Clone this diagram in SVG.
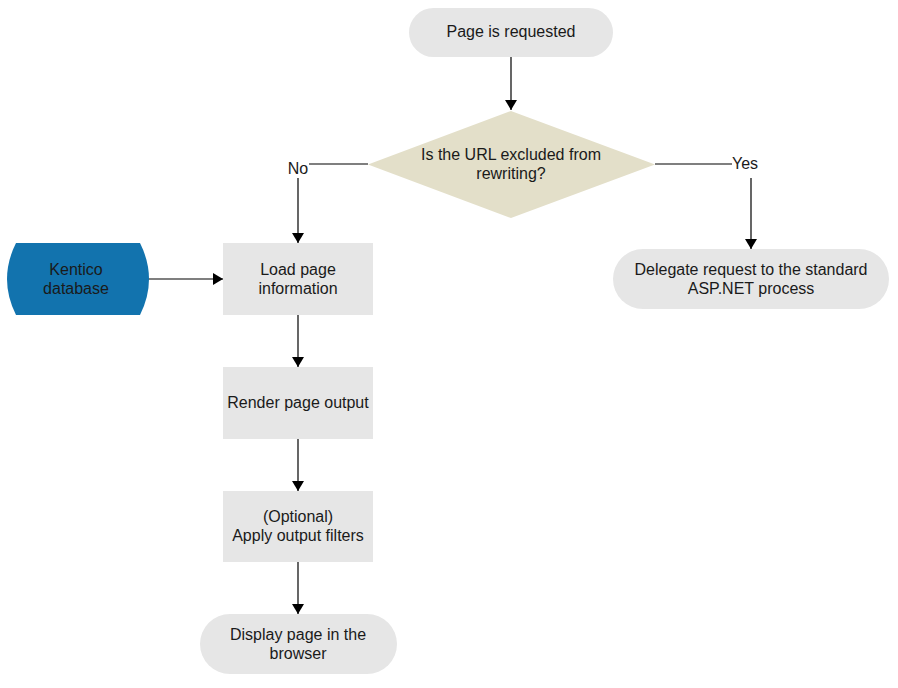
<svg xmlns="http://www.w3.org/2000/svg" width="898" height="688" viewBox="0 0 898 688">
<defs>
<style>
text{font-family:"Liberation Sans",Arial,sans-serif;font-size:16px;fill:#1a1a1a;text-anchor:middle}
.g{fill:#e6e6e6}
.c{stroke:#000;stroke-width:1.2;fill:none}
</style>
<marker id="ah" viewBox="0 0 10 12" refX="10" refY="6" markerWidth="10" markerHeight="12" markerUnits="userSpaceOnUse" orient="auto">
<path d="M0,0 L10,6 L0,12 z" fill="#000"/>
</marker>
</defs>
<rect width="898" height="688" fill="#fff"/>
<g id="connectors">
<path class="c" d="M511,57 V110" marker-end="url(#ah)"/>
<path class="c" d="M368,164 H309"/>
<path class="c" d="M298,178 V243" marker-end="url(#ah)"/>
<path class="c" d="M655,164 H732"/>
<path class="c" d="M751,178 V249" marker-end="url(#ah)"/>
<path class="c" d="M148,279 H223" marker-end="url(#ah)"/>
<path class="c" d="M298,315 V367" marker-end="url(#ah)"/>
<path class="c" d="M298,439 V491" marker-end="url(#ah)"/>
<path class="c" d="M298,562 V614" marker-end="url(#ah)"/>
<text x="298" y="174">No</text>
<text x="745" y="169">Yes</text>
</g>
<g id="start">
<rect class="g" x="409" y="8" width="204" height="49" rx="24.5"/>
<text x="511" y="37">Page is requested</text>
</g>
<g id="decision">
<polygon points="511,111 655,164.5 511,218 368,164.5" fill="#e3dfc9"/>
<text x="511" y="160">Is the URL excluded from</text>
<text x="511" y="179">rewriting?</text>
</g>
<g id="delegate">
<rect class="g" x="613" y="249" width="276" height="60" rx="30"/>
<text x="751" y="275">Delegate request to the standard</text>
<text x="751" y="294">ASP.NET process</text>
</g>
<g id="kentico">
<path d="M16,243 H140 Q158,279 140,315 H16 Q-2,279 16,243 Z" fill="#1273ae"/>
<text x="76" y="275">Kentico</text>
<text x="76" y="294">database</text>
</g>
<g id="load">
<rect class="g" x="223" y="243" width="150" height="72"/>
<text x="298" y="275">Load page</text>
<text x="298" y="294">information</text>
</g>
<g id="render">
<rect class="g" x="223" y="367" width="150" height="72"/>
<text x="298" y="408">Render page output</text>
</g>
<g id="filters">
<rect class="g" x="223" y="491" width="150" height="71"/>
<text x="298" y="522">(Optional)</text>
<text x="298" y="541">Apply output filters</text>
</g>
<g id="display">
<rect class="g" x="200" y="614" width="197" height="60" rx="30"/>
<text x="298" y="640">Display page in the</text>
<text x="298" y="659">browser</text>
</g>
</svg>
